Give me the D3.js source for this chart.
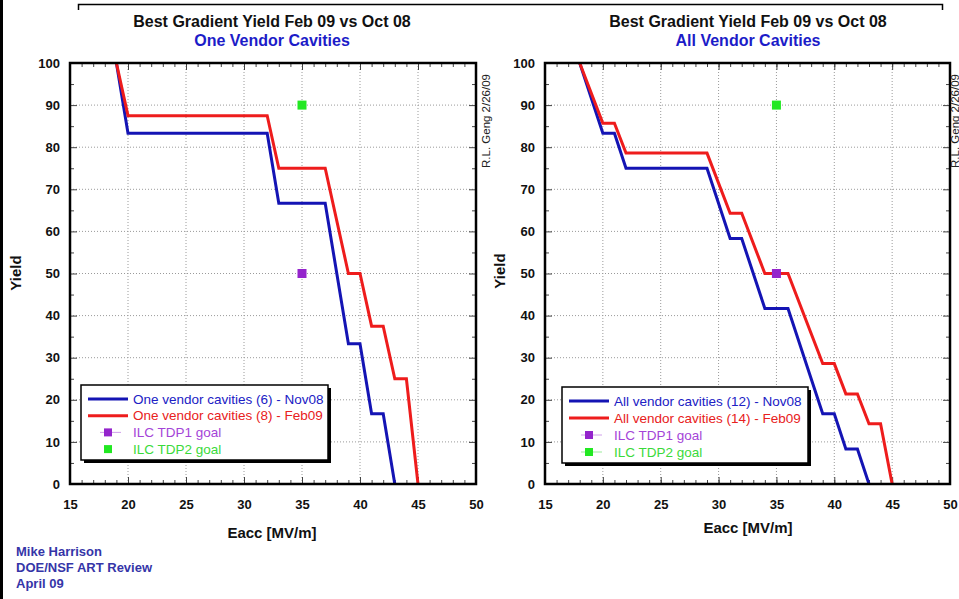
<!DOCTYPE html>
<html><head><meta charset="utf-8">
<script src="https://cdn.jsdelivr.net/npm/d3@7"></script>
<style>
html,body{margin:0;padding:0;background:#fff;}
svg{display:block;font-family:Arial,"Liberation Sans",sans-serif;}
</style></head>
<body>
<svg id="c" width="959" height="599"></svg>
<script>
// ---- data ----
const xTickValues = [15, 20, 25, 30, 35, 40, 45, 50];
const yTickValues = [0, 10, 20, 30, 40, 50, 60, 70, 80, 90, 100];

const oneNov08E = [19, 20, 32, 33, 37, 39, 40, 41, 42, 43];
const oneNov08Y = [100, 83.3, 83.3, 66.7, 66.7, 33.3, 33.3, 16.7, 16.7, 0];
const oneFeb09E = [19, 20, 32, 33, 37, 39, 40, 41, 42, 43, 44, 45];
const oneFeb09Y = [100, 87.5, 87.5, 75, 75, 50, 50, 37.5, 37.5, 25, 25, 0];

const allNov08E = [18, 20, 21, 22, 29, 31, 32, 34, 36, 39, 40, 41, 42, 43];
const allNov08Y = [100, 83.3, 83.3, 75, 75, 58.3, 58.3, 41.7, 41.7, 16.7, 16.7, 8.3, 8.3, 0];
const allFeb09E = [18, 20, 21, 22, 29, 31, 32, 34, 36, 39, 40, 41, 42, 43, 44, 45];
const allFeb09Y = [100, 85.7, 85.7, 78.6, 78.6, 64.3, 64.3, 50, 50, 28.6, 28.6, 21.4, 21.4, 14.3, 14.3, 0];

const tdp1 = [35, 50];
const tdp2 = [35, 90];

const leftLegend = ["One vendor cavities (6) - Nov08", "One vendor cavities (8) - Feb09", "ILC TDP1 goal", "ILC TDP2 goal"];
const rightLegend = ["All vendor cavities (12) - Nov08", "All vendor cavities (14) - Feb09", "ILC TDP1 goal", "ILC TDP2 goal"];

const mainTitle = "Best Gradient Yield Feb 09 vs Oct 08";
const footer = ["Mike Harrison", "DOE/NSF ART Review", "April 09"];

// ---- styles ----
const BLUE = "#1414b4", RED = "#ee1c1c", PURPLE = "#9424cc", GREEN = "#22e822";
const svg = d3.select("#c");

// slide decorations
svg.append("rect").attr("x", 0).attr("y", 0).attr("width", 3).attr("height", 599).attr("fill", "#000");
svg.append("path").attr("d", "M78.5,10 V4.5 H942.5 V10").attr("fill", "none").attr("stroke", "#000").attr("stroke-width", 1.5);

function chart(cfg) {
  const x = d3.scaleLinear().domain([15, 50]).range([cfg.x0, cfg.x1]);
  const y = d3.scaleLinear().domain([0, 100]).range([cfg.y1, cfg.y0]);
  const g = svg.append("g");

  g.append("rect").attr("x", cfg.x0).attr("y", cfg.y0).attr("width", cfg.x1 - cfg.x0).attr("height", cfg.y1 - cfg.y0).attr("fill", "#fff");

  // grid
  g.append("g").selectAll("line").data(xTickValues.slice(1, -1)).join("line")
    .attr("x1", d => x(d)).attr("x2", d => x(d)).attr("y1", cfg.y0).attr("y2", cfg.y1)
    .attr("stroke", "#9a9a9a").attr("stroke-width", 1).attr("stroke-dasharray", "1,2");
  g.append("g").selectAll("line").data(yTickValues.slice(1, -1)).join("line")
    .attr("y1", d => y(d)).attr("y2", d => y(d)).attr("x1", cfg.x0).attr("x2", cfg.x1)
    .attr("stroke", "#9a9a9a").attr("stroke-width", 1).attr("stroke-dasharray", "1,2");

  // axes (inward ticks)
  const xMinor = d3.range(16, 50, 1);
  const yMinor = d3.range(5, 100, 10);
  const ax = [
    [d3.axisBottom(x).tickValues(xMinor).tickSize(-4).tickFormat(""), `translate(0,${cfg.y1})`],
    [d3.axisTop(x).tickValues(xMinor).tickSize(-4).tickFormat(""), `translate(0,${cfg.y0})`],
    [d3.axisLeft(y).tickValues(yMinor).tickSize(-4).tickFormat(""), `translate(${cfg.x0},0)`],
    [d3.axisRight(y).tickValues(yMinor).tickSize(-4).tickFormat(""), `translate(${cfg.x1},0)`],
    [d3.axisTop(x).tickValues(xTickValues).tickSize(-7).tickFormat(""), `translate(0,${cfg.y0})`],
    [d3.axisRight(y).tickValues(yTickValues).tickSize(-7).tickFormat(""), `translate(${cfg.x1},0)`]
  ];
  ax.forEach(([a, t]) => {
    const gg = g.append("g").attr("transform", t).call(a);
    gg.select(".domain").remove();
    gg.selectAll("line").attr("stroke", "#444");
  });
  const xa = g.append("g").attr("transform", `translate(0,${cfg.y1})`)
    .call(d3.axisBottom(x).tickValues(xTickValues).tickSize(-7).tickPadding(16));
  xa.select(".domain").remove();
  xa.selectAll("line").attr("stroke", "#444");
  xa.selectAll("text").attr("font-size", 13).attr("font-weight", "bold").attr("fill", "#111")
    .attr("font-family", "Arial, 'Liberation Sans', sans-serif");
  const ya = g.append("g").attr("transform", `translate(${cfg.x0},0)`)
    .call(d3.axisLeft(y).tickValues(yTickValues).tickSize(-7).tickPadding(10));
  ya.select(".domain").remove();
  ya.selectAll("line").attr("stroke", "#444");
  ya.selectAll("text").attr("font-size", 13).attr("font-weight", "bold").attr("fill", "#111")
    .attr("font-family", "Arial, 'Liberation Sans', sans-serif");

  // data lines
  const line = d3.line().x(d => x(d[0])).y(d => y(d[1]));
  cfg.series.forEach(s => {
    g.append("path").datum(d3.zip(s.e, s.y)).attr("d", line)
      .attr("fill", "none").attr("stroke", s.color).attr("stroke-width", 3).attr("stroke-linejoin", "miter");
  });
  // goal points
  [[tdp1, PURPLE], [tdp2, GREEN]].forEach(([p, c]) => {
    g.append("rect").attr("x", x(p[0]) - 4.5).attr("y", y(p[1]) - 4.5).attr("width", 9).attr("height", 9).attr("fill", c);
  });

  // frame
  g.append("rect").attr("x", cfg.x0).attr("y", cfg.y0).attr("width", cfg.x1 - cfg.x0).attr("height", cfg.y1 - cfg.y0)
    .attr("fill", "none").attr("stroke", "#000").attr("stroke-width", 2.5);

  // titles
  g.append("text").attr("x", cfg.tcx).attr("y", 27).attr("text-anchor", "middle")
    .attr("font-size", 16).attr("font-weight", "bold").attr("fill", "#111").text(mainTitle);
  g.append("text").attr("x", cfg.tcx).attr("y", 46).attr("text-anchor", "middle")
    .attr("font-size", 16).attr("font-weight", "bold").attr("fill", "#1c1cc8").text(cfg.subtitle);
  g.append("text").attr("x", cfg.tcx).attr("y", cfg.xlabY).attr("text-anchor", "middle")
    .attr("font-size", 15).attr("font-weight", "bold").attr("fill", "#111").text("Eacc [MV/m]");
  g.append("text").attr("transform", `translate(${cfg.ylabX},${cfg.ylabCy}) rotate(-90)`).attr("text-anchor", "middle")
    .attr("font-size", 15).attr("font-weight", "bold").attr("fill", "#111").text("Yield");
  g.append("text").attr("transform", `translate(${cfg.sigX},168) rotate(-90)`).attr("text-anchor", "start")
    .attr("font-size", 11.5).attr("fill", "#222").text("R.L. Geng 2/26/09");

  // legend
  const L = cfg.legend;
  g.append("rect").attr("x", L.x + 3).attr("y", L.y + 3).attr("width", L.w).attr("height", L.h).attr("fill", "#000");
  g.append("rect").attr("x", L.x).attr("y", L.y).attr("width", L.w).attr("height", L.h).attr("fill", "#fff")
    .attr("stroke", "#000").attr("stroke-width", 1.5);
  const cols = [BLUE, RED, PURPLE, GREEN];
  const tcols = ["#2020c4", "#e82020", "#a444d8", "#3ada3a"];
  cfg.legendText.forEach((t, i) => {
    const cy = L.y + 14 + i * L.dy;
    if (i < 2) {
      g.append("line").attr("x1", L.x + 7).attr("x2", L.x + 47).attr("y1", cy).attr("y2", cy)
        .attr("stroke", cols[i]).attr("stroke-width", 3);
    } else {
      if (L.faint[i - 2]) g.append("line").attr("x1", L.x + 19).attr("x2", L.x + 40).attr("y1", cy).attr("y2", cy)
        .attr("stroke", tcols[i]).attr("stroke-width", 1).attr("opacity", 0.5);
      g.append("rect").attr("x", L.x + 27 - 4).attr("y", cy - 4).attr("width", 8).attr("height", 8).attr("fill", cols[i]);
    }
    g.append("text").attr("x", L.x + 52).attr("y", cy + 4.5).attr("font-size", 13.5).attr("fill", tcols[i]).text(t);
  });
}

chart({
  x0: 70, x1: 476, y0: 63, y1: 484, tcx: 272, subtitle: "One Vendor Cavities",
  xlabY: 538, ylabX: 21, ylabCy: 273, sigX: 490,
  series: [{ e: oneNov08E, y: oneNov08Y, color: BLUE }, { e: oneFeb09E, y: oneFeb09Y, color: RED }],
  legend: { x: 81, y: 385, w: 247, h: 75, dy: 16.7, faint: [true, false] }, legendText: leftLegend
});
chart({
  x0: 545, x1: 950, y0: 63, y1: 484, tcx: 748, subtitle: "All Vendor Cavities",
  xlabY: 533, ylabX: 505, ylabCy: 271, sigX: 958.5,
  series: [{ e: allNov08E, y: allNov08Y, color: BLUE }, { e: allFeb09E, y: allFeb09Y, color: RED }],
  legend: { x: 562, y: 387, w: 246, h: 76, dy: 17, faint: [true, true] }, legendText: rightLegend
});

// footer
svg.append("g").selectAll("text").data(footer).join("text")
  .attr("x", 16).attr("y", (d, i) => 556 + i * 16).attr("font-size", 13).attr("font-weight", "bold")
  .attr("fill", "#3535a8").text(d => d);
</script>
</body></html>
